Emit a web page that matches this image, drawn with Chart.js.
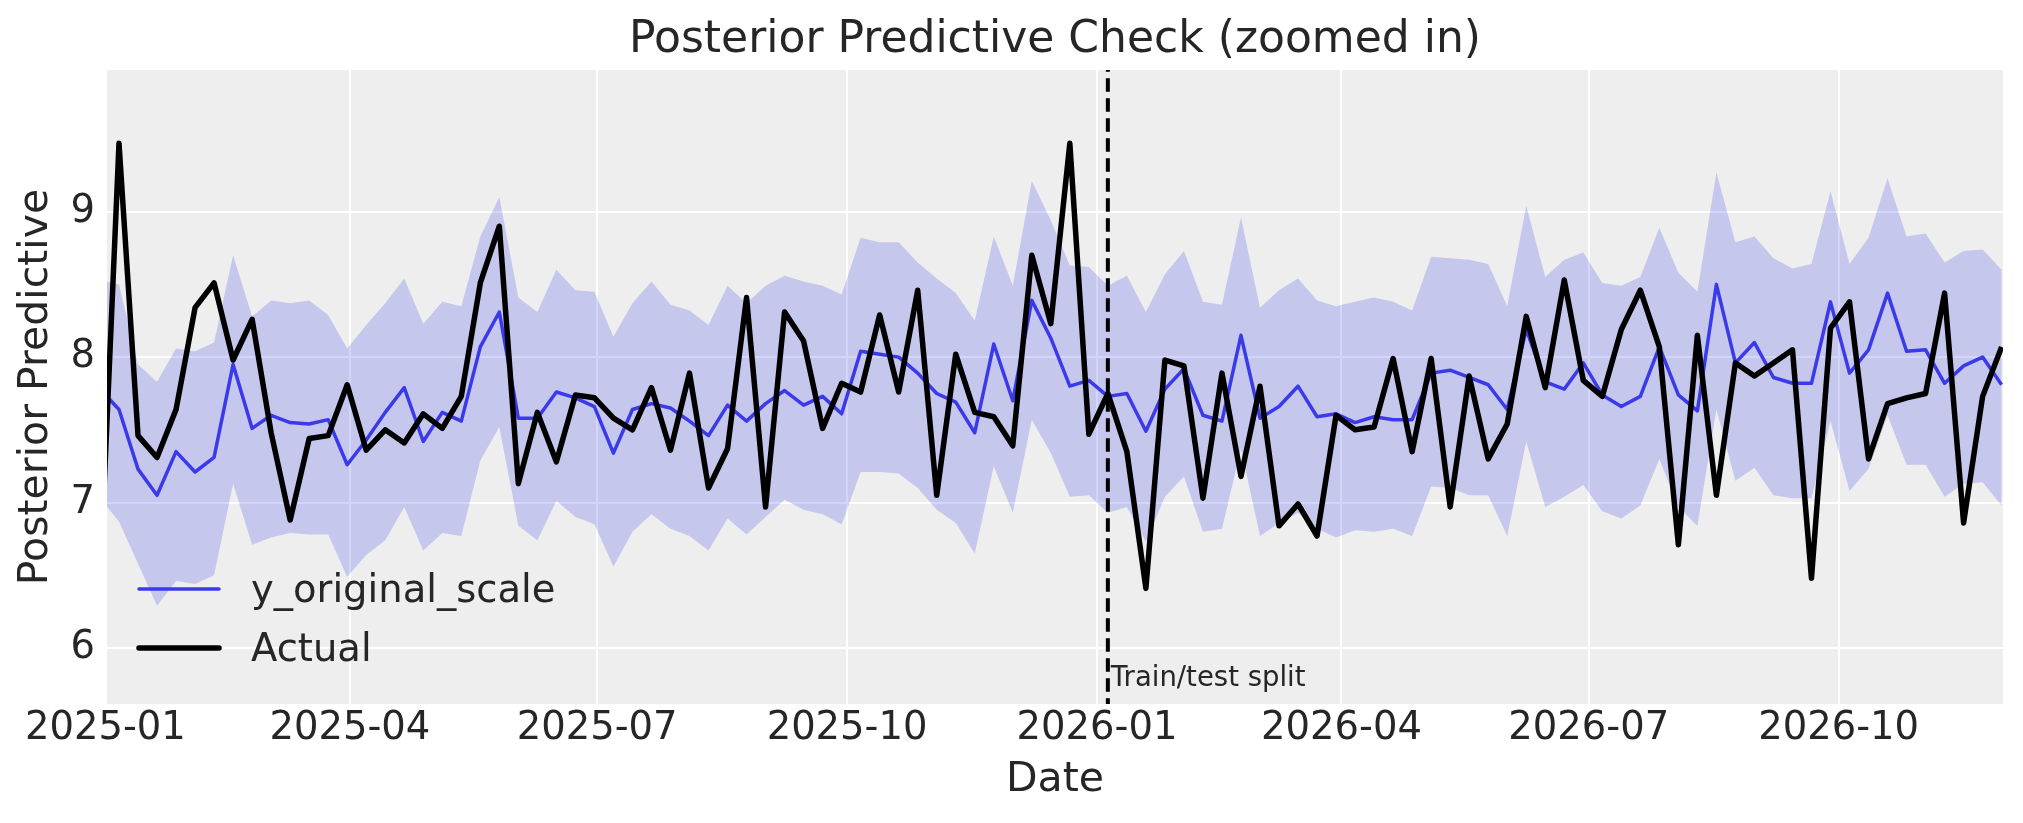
<!DOCTYPE html>
<html>
<head>
<meta charset="utf-8">
<title>Posterior Predictive Check (zoomed in)</title>
<script src="https://cdn.jsdelivr.net/npm/chart.js@4.4.0/dist/chart.umd.min.js"></script>
<style>
  html, body { margin: 0; padding: 0; background: #ffffff; }
  #wrap { width: 2023px; height: 823px; }
</style>
</head>
<body>
<div id="wrap"><canvas id="chart" width="2023" height="823"></canvas></div>
<script>
// weekly observations, first one sits just left of the zoom window
const firstWeek = '2024-12-30';
const splitDate = '2026-01-05';
const axisStart = '2025-01-01T14:00:00Z';
const axisEnd = '2026-11-30T12:00:00Z';
const tickLabels = ['2025-01', '2025-04', '2025-07', '2025-10', '2026-01', '2026-04', '2026-07', '2026-10'];
const yTicks = [6, 7, 8, 9];
const yMin = 5.615;
const yMax = 9.974;

const actual = [
  6.45,
  9.47, 7.46, 7.31, 7.64, 8.34, 8.51, 7.98, 8.26, 7.48, 6.88,
  7.44, 7.46, 7.81, 7.36, 7.50, 7.41, 7.61, 7.51, 7.73, 8.51,
  8.90, 7.13, 7.62, 7.28, 7.74, 7.72, 7.58, 7.50, 7.79, 7.36,
  7.89, 7.10, 7.37, 8.41, 6.97, 8.31, 8.11, 7.51, 7.82, 7.76,
  8.29, 7.76, 8.46, 7.05, 8.02, 7.62, 7.59, 7.39, 8.70, 8.23,
  9.47, 7.47, 7.75, 7.35, 6.41, 7.98, 7.94, 7.03, 7.89, 7.18,
  7.80, 6.84, 6.99, 6.77, 7.60, 7.50, 7.52, 7.99, 7.35, 7.99,
  6.97, 7.87, 7.30, 7.54, 8.28, 7.79, 8.53, 7.84, 7.73, 8.19,
  8.46, 8.07, 6.71, 8.15, 7.05, 7.96, 7.87, 7.96, 8.05, 6.48,
  8.20, 8.38, 7.30, 7.68, 7.72, 7.75, 8.44, 6.86, 7.73, 8.07,
];

const predMean = [
  7.78,
  7.64, 7.23, 7.05, 7.35, 7.21, 7.31, 7.95, 7.51, 7.60, 7.55,
  7.54, 7.57, 7.26, 7.43, 7.62, 7.79, 7.42, 7.62, 7.56, 8.07,
  8.31, 7.58, 7.58, 7.76, 7.72, 7.66, 7.34, 7.64, 7.68, 7.65,
  7.56, 7.46, 7.67, 7.56, 7.68, 7.77, 7.67, 7.73, 7.61, 8.04,
  8.02, 8.00, 7.89, 7.75, 7.69, 7.48, 8.09, 7.70, 8.39, 8.13,
  7.80, 7.84, 7.73, 7.75, 7.49, 7.78, 7.92, 7.60, 7.56, 8.15,
  7.58, 7.66, 7.80, 7.59, 7.61, 7.55, 7.59, 7.57, 7.57, 7.89,
  7.91, 7.86, 7.81, 7.64, 8.19, 7.83, 7.78, 7.96, 7.74, 7.66,
  7.73, 8.07, 7.74, 7.63, 8.50, 7.96, 8.10, 7.86, 7.82, 7.82,
  8.38, 7.89, 8.05, 8.44, 8.04, 8.05, 7.82, 7.94, 8.00, 7.81,
];

const predUpper = [
  8.53,
  8.50, 7.95, 7.83, 8.06, 8.04, 8.10, 8.70, 8.28, 8.39, 8.37,
  8.39, 8.29, 8.06, 8.22, 8.37, 8.54, 8.23, 8.38, 8.35, 8.83,
  9.10, 8.41, 8.31, 8.60, 8.46, 8.45, 8.14, 8.37, 8.52, 8.36,
  8.32, 8.22, 8.49, 8.37, 8.49, 8.56, 8.52, 8.49, 8.43, 8.82,
  8.79, 8.79, 8.65, 8.54, 8.44, 8.25, 8.83, 8.49, 9.21, 8.94,
  8.63, 8.62, 8.49, 8.56, 8.31, 8.57, 8.73, 8.38, 8.36, 8.96,
  8.34, 8.46, 8.54, 8.39, 8.35, 8.38, 8.41, 8.38, 8.32, 8.69,
  8.68, 8.67, 8.64, 8.35, 9.04, 8.55, 8.67, 8.72, 8.51, 8.49,
  8.55, 8.89, 8.58, 8.45, 9.27, 8.79, 8.83, 8.68, 8.61, 8.64,
  9.14, 8.64, 8.82, 9.23, 8.83, 8.85, 8.65, 8.73, 8.74, 8.60,
];

const predLower = [
  7.03,
  6.87, 6.58, 6.29, 6.46, 6.44, 6.50, 7.13, 6.71, 6.76, 6.79,
  6.78, 6.78, 6.49, 6.64, 6.74, 6.97, 6.67, 6.79, 6.77, 7.29,
  7.52, 6.84, 6.74, 7.01, 6.90, 6.85, 6.56, 6.80, 6.92, 6.82,
  6.77, 6.67, 6.89, 6.78, 6.90, 7.02, 6.95, 6.92, 6.85, 7.21,
  7.21, 7.20, 7.10, 6.95, 6.86, 6.65, 7.25, 6.93, 7.57, 7.34,
  7.04, 7.05, 6.93, 6.97, 6.73, 7.04, 7.18, 6.80, 6.82, 7.37,
  6.77, 6.86, 6.93, 6.82, 6.76, 6.81, 6.80, 6.82, 6.77, 7.11,
  7.10, 7.05, 7.05, 6.77, 7.42, 6.97, 7.04, 7.12, 6.94, 6.89,
  6.98, 7.30, 6.97, 6.84, 7.64, 7.15, 7.24, 7.05, 7.03, 7.03,
  7.56, 7.08, 7.23, 7.60, 7.26, 7.26, 7.04, 7.13, 7.14, 6.98,
];

const TEXT = '#262626';
const BLUE = 'rgb(58, 58, 234)';
const BAND = 'rgba(42, 46, 236, 0.2)';
const FONT = 'DejaVu Sans';

Chart.defaults.font.family = FONT;
Chart.defaults.color = TEXT;

// days since 2025-01-01, used as the x value
const dayOf = (s) => (Date.parse(s.length <= 10 ? s + 'T00:00:00Z' : s) - Date.parse('2025-01-01T00:00:00Z')) / 864e5;

const weekDays = actual.map((_, i) => dayOf(firstWeek) + 7 * i);
const toPoints = (values) => values.map((v, i) => ({ x: weekDays[i], y: v }));

const tickDays = tickLabels.map((t) => dayOf(t + '-01'));

const bgPlugin = {
  id: 'bg',
  beforeDraw(chart) {
    const { ctx, chartArea: a } = chart;
    ctx.save();
    ctx.fillStyle = '#ffffff';
    ctx.fillRect(0, 0, chart.width, chart.height);
    ctx.fillStyle = '#eeeeee';
    ctx.fillRect(a.left, a.top, a.right - a.left, a.bottom - a.top);
    ctx.restore();
  },
};

const overlayPlugin = {
  id: 'overlay',
  afterDatasetsDraw(chart) {
    const { ctx, chartArea: a, scales } = chart;
    const sx = scales.x.getPixelForValue(dayOf(splitDate));

    ctx.save();
    // train/test split
    ctx.strokeStyle = '#000000';
    ctx.lineWidth = 4;
    ctx.setLineDash([13.5, 6.5]);
    ctx.lineDashOffset = 11.7;
    ctx.beginPath();
    ctx.moveTo(sx, a.top);
    ctx.lineTo(sx, a.bottom);
    ctx.stroke();
    ctx.setLineDash([]);

    ctx.fillStyle = TEXT;
    ctx.font = '27.5px "' + FONT + '"';
    ctx.textAlign = 'left';
    ctx.textBaseline = 'alphabetic';
    ctx.fillText('Train/test split', sx + 3, a.bottom - 18);

    // legend, lower left inside the axes
    const items = [
      { label: 'y_original_scale', color: BLUE, width: 3.5, dy: 115 },
      { label: 'Actual', color: '#000000', width: 5.5, dy: 56 },
    ];
    ctx.font = '38.5px "' + FONT + '"';
    items.forEach((it) => {
      const y = a.bottom - it.dy;
      ctx.strokeStyle = it.color;
      ctx.lineWidth = it.width;
      ctx.lineCap = 'round';
      ctx.beginPath();
      ctx.moveTo(a.left + 32, y);
      ctx.lineTo(a.left + 112, y);
      ctx.stroke();
      ctx.fillStyle = TEXT;
      ctx.fillText(it.label, a.left + 144, y + 13);
    });
    ctx.restore();
  },
};

const data = {
  datasets: [
    {
      label: 'Actual',
      data: toPoints(actual),
      borderColor: '#000000',
      borderWidth: 5.5,
      borderJoinStyle: 'round',
      pointRadius: 0,
      fill: false,
      clip: 0,
      order: 0,
    },
    {
      label: 'y_original_scale',
      data: toPoints(predMean),
      borderColor: BLUE,
      borderWidth: 3.5,
      borderJoinStyle: 'round',
      pointRadius: 0,
      fill: false,
      clip: 0,
      order: 1,
    },
    {
      label: 'upper',
      data: toPoints(predUpper),
      borderColor: 'rgba(0,0,0,0)',
      borderWidth: 0,
      backgroundColor: BAND,
      pointRadius: 0,
      fill: '+1',
      clip: 0,
      order: 2,
    },
    {
      label: 'lower',
      data: toPoints(predLower),
      borderColor: 'rgba(0,0,0,0)',
      borderWidth: 0,
      pointRadius: 0,
      fill: false,
      clip: 0,
      order: 3,
    },
  ],
};

const config = {
  type: 'line',
  data: data,
  options: {
    responsive: false,
    devicePixelRatio: 1,
    animation: false,
    layout: { padding: { left: 0, right: 20, top: 0, bottom: 0 } },
    plugins: {
      legend: { display: false },
      tooltip: { enabled: false },
      title: {
        display: true,
        text: 'Posterior Predictive Check (zoomed in)',
        fullSize: false,
        color: TEXT,
        font: { size: 44, weight: 'normal' },
        padding: { top: 14.5, bottom: 2.7 },
      },
    },
    scales: {
      x: {
        type: 'linear',
        min: dayOf(axisStart),
        max: dayOf(axisEnd),
        afterBuildTicks: (scale) => {
          scale.ticks = tickDays.map((v) => ({ value: v }));
        },
        afterFit: (scale) => {
          scale.height = 119;
        },
        grid: { color: '#ffffff', lineWidth: 2, drawTicks: false },
        border: { display: false },
        ticks: {
          autoSkip: false,
          maxRotation: 0,
          padding: 2,
          color: TEXT,
          font: { size: 38.5 },
          callback: (value) => tickLabels[tickDays.indexOf(value)],
        },
        title: {
          display: true,
          text: 'Date',
          color: TEXT,
          font: { size: 41 },
          padding: { top: 0, bottom: 18.4 },
        },
      },
      y: {
        type: 'linear',
        min: yMin,
        max: yMax,
        afterBuildTicks: (scale) => {
          scale.ticks = yTicks.map((v) => ({ value: v }));
        },
        afterFit: (scale) => {
          scale.width = 107;
        },
        grid: { color: '#ffffff', lineWidth: 2, drawTicks: false },
        border: { display: false },
        ticks: {
          padding: 12,
          color: TEXT,
          font: { size: 38.5 },
          callback: (value) => String(value),
        },
        title: {
          display: true,
          text: 'Posterior Predictive',
          color: TEXT,
          font: { size: 41 },
          padding: { top: 12, bottom: 0 },
        },
      },
    },
  },
  plugins: [bgPlugin, overlayPlugin],
};

const chart = new Chart(document.getElementById('chart'), config);
</script>
</body>
</html>
